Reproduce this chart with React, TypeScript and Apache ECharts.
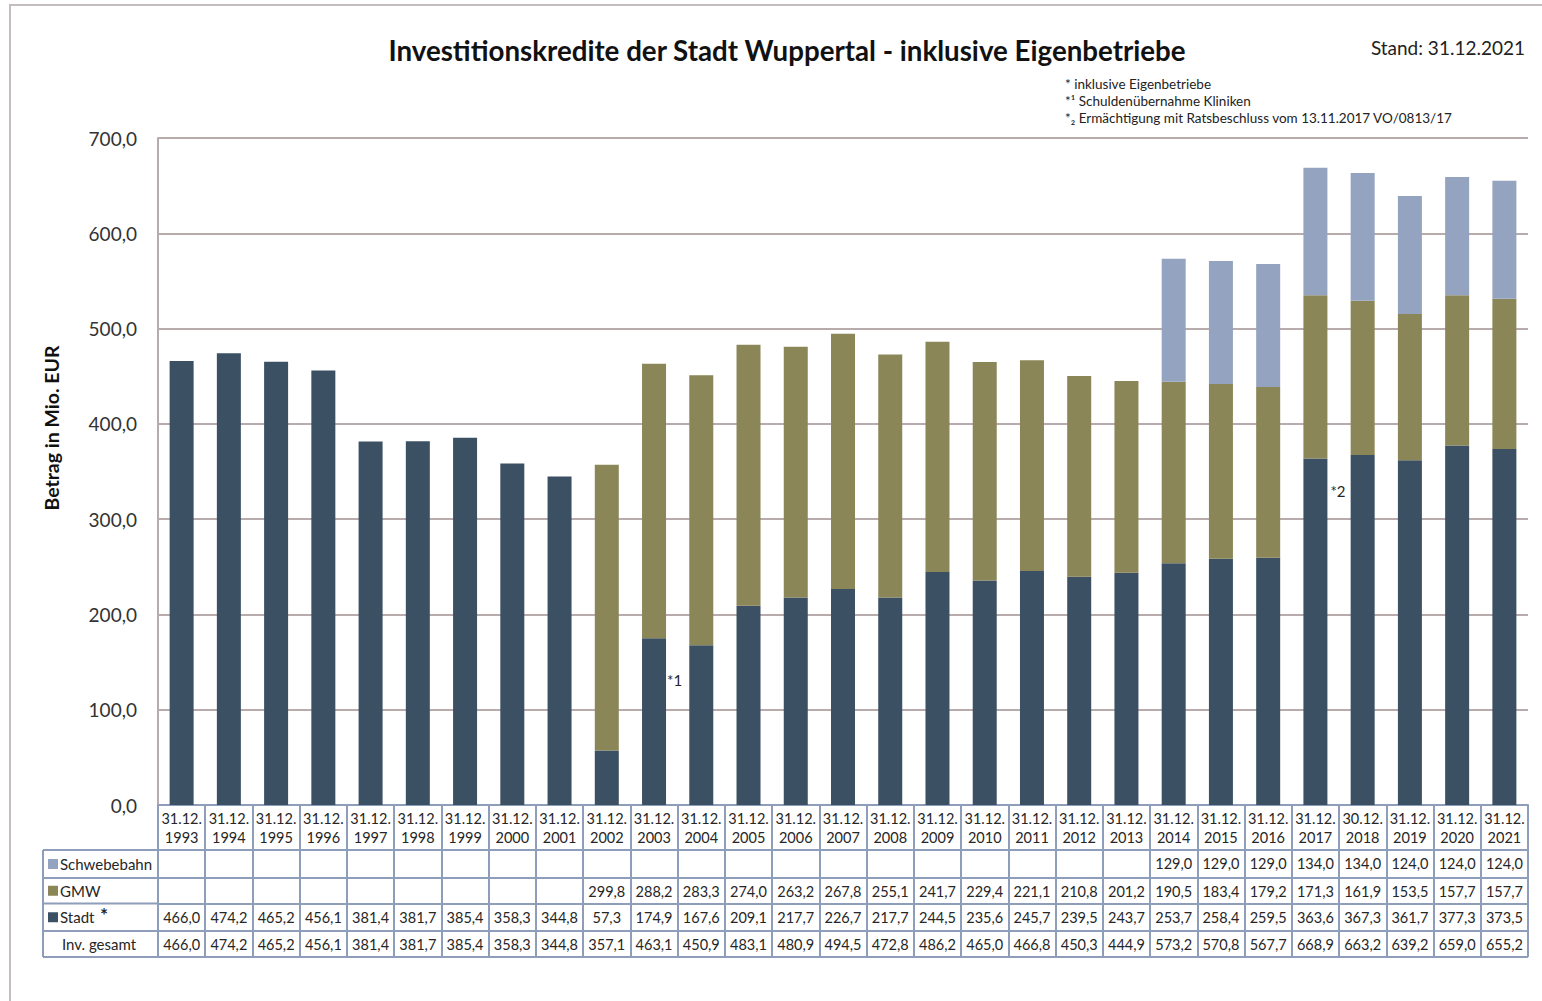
import React, { useEffect, useRef } from "react";
import * as echarts from "echarts";

const years = ["1993","1994","1995","1996","1997","1998","1999","2000","2001","2002","2003","2004","2005","2006","2007","2008","2009","2010","2011","2012","2013","2014","2015","2016","2017","2018","2019","2020","2021"];
const days = ["31.12.","31.12.","31.12.","31.12.","31.12.","31.12.","31.12.","31.12.","31.12.","31.12.","31.12.","31.12.","31.12.","31.12.","31.12.","31.12.","31.12.","31.12.","31.12.","31.12.","31.12.","31.12.","31.12.","31.12.","31.12.","30.12.","31.12.","31.12.","31.12."];
const stadt = [466.0,474.2,465.2,456.1,381.4,381.7,385.4,358.3,344.8,57.3,174.9,167.6,209.1,217.7,226.7,217.7,244.5,235.6,245.7,239.5,243.7,253.7,258.4,259.5,363.6,367.3,361.7,377.3,373.5];
const gmw = [null,null,null,null,null,null,null,null,null,299.8,288.2,283.3,274.0,263.2,267.8,255.1,241.7,229.4,221.1,210.8,201.2,190.5,183.4,179.2,171.3,161.9,153.5,157.7,157.7];
const schwebebahn = [null,null,null,null,null,null,null,null,null,null,null,null,null,null,null,null,null,null,null,null,null,129.0,129.0,129.0,134.0,134.0,124.0,124.0,124.0];
const gesamt = [466.0,474.2,465.2,456.1,381.4,381.7,385.4,358.3,344.8,357.1,463.1,450.9,483.1,480.9,494.5,472.8,486.2,465.0,466.8,450.3,444.9,573.2,570.8,567.7,668.9,663.2,639.2,659.0,655.2];
const annotations = [{ year: "2003", text: "*1" }, { year: "2017", text: "*2" }];
const footnotes = ["* inklusive Eigenbetriebe", "*\u00b9 Schuldenübernahme Kliniken", "*\u2082 Ermächtigung mit Ratsbeschluss vom 13.11.2017 VO/0813/17"];

const C_STADT = "#3c5063";
const C_GMW = "#8a8658";
const C_SCHWEBE = "#94a3bf";
const TABLE = "#8e9dba";
const GRIDC = "#b8abab";
const TXT = "#262626";
const FONT = "Lato, 'Open Sans', sans-serif";

const fmt = (v: number | null | undefined) => (v == null ? "" : v.toFixed(1).replace(".", ","));

function txt(x: number, y: number, text: string, size: number, opts: any = {}) {
  return {
    type: "text",
    x,
    y,
    rotation: opts.rotation || 0,
    silent: true,
    style: {
      text,
      fontSize: size,
      fontFamily: FONT,
      fontWeight: opts.bold ? "bold" : "normal",
      fill: opts.color || TXT,
      align: opts.align || "left",
      textAlign: opts.align || "left",
      verticalAlign: "middle",
      textVerticalAlign: "middle",
    },
  };
}
function hline(x1: number, x2: number, y: number) {
  return { type: "line", silent: true, shape: { x1, y1: y, x2, y2: y }, style: { stroke: TABLE, lineWidth: 2 } };
}

export default function App() {
  const ref = useRef<HTMLDivElement>(null);
  useEffect(() => {
    const chart = echarts.init(ref.current!, undefined, { renderer: "svg" });

    const tableAxis = (vals: (number | null)[], offset: number, tickLen: number, margin: number) => ({
      type: "category",
      gridIndex: 0,
      position: "bottom",
      offset,
      data: years,
      axisLine: { show: true, lineStyle: { color: TABLE, width: 2 } },
      axisTick: { show: true, interval: 0, length: tickLen, alignWithLabel: false, lineStyle: { color: TABLE, width: 2 } },
      axisLabel: {
        interval: 0,
        margin,
        fontSize: 14.5,
        color: TXT,
        fontFamily: FONT,
        formatter: (v: string) => fmt(vals[years.indexOf(v)]),
      },
      splitLine: { show: false },
    });

    const stadtData = stadt.map((v, i) => {
      const a = annotations.find((an) => an.year === years[i]);
      if (!a) return v;
      return {
        value: v,
        label: {
          show: true,
          formatter: a.text,
          position: a.text === "*1" ? [25, 42] : [27, 32],
          align: "left",
          verticalAlign: "middle",
          fontSize: 15,
          color: TXT,
          fontFamily: FONT,
        },
      };
    });

    const rowLabelY = [864, 890.75, 917.25, 944];

    chart.setOption({
      animation: false,
      backgroundColor: "#ffffff",
      grid: { left: 158, right: 14, top: 138, bottom: 196 },
      xAxis: [
        {
          type: "category",
          gridIndex: 0,
          position: "bottom",
          offset: 0,
          data: years,
          axisLine: { show: true, lineStyle: { color: TABLE, width: 2 } },
          axisTick: { show: true, interval: 0, length: 45, alignWithLabel: false, lineStyle: { color: TABLE, width: 2 } },
          axisLabel: {
            interval: 0,
            margin: 4,
            fontSize: 14.5,
            lineHeight: 19,
            color: TXT,
            fontFamily: FONT,
            formatter: (v: string) => days[years.indexOf(v)] + "\n" + v,
          },
          splitLine: { show: false },
        },
        tableAxis(schwebebahn, 45, 28, 6),
        tableAxis(gmw, 73, 25.5, 6),
        tableAxis(stadt, 98.5, 27.5, 6),
        tableAxis(gesamt, 126, 26, 6),
      ],
      yAxis: {
        type: "value",
        min: 0,
        max: 700,
        interval: 100,
        axisLabel: { formatter: (v: number) => fmt(v), fontSize: 19, color: "#333", margin: 21, fontFamily: FONT },
        axisLine: { show: true, lineStyle: { color: GRIDC, width: 2 } },
        axisTick: { show: false },
        splitLine: { lineStyle: { color: GRIDC, width: 2 } },
      },
      series: [
        { name: "Stadt", type: "bar", stack: "total", xAxisIndex: 0, barWidth: 24, data: stadtData, itemStyle: { color: C_STADT } },
        { name: "GMW", type: "bar", stack: "total", xAxisIndex: 0, barWidth: 24, data: gmw, itemStyle: { color: C_GMW } },
        { name: "Schwebebahn", type: "bar", stack: "total", xAxisIndex: 0, barWidth: 24, data: schwebebahn, itemStyle: { color: C_SCHWEBE } },
      ],
      graphic: [
        { type: "rect", silent: true, shape: { x: 10, y: 5, width: 1600, height: 1100 }, style: { fill: "none", stroke: "#c4bdbd", lineWidth: 2 } },
        txt(787, 50, "Investitionskredite der Stadt Wuppertal - inklusive Eigenbetriebe", 27.7, { bold: true, align: "center", color: "#111" }),
        txt(1525, 47, "Stand: 31.12.2021", 19, { align: "right", color: "#222" }),
        ...footnotes.map((f, i) => txt(1065, 84 + i * 17, f, 13.5, { color: "#222" })),
        txt(51, 428, "Betrag in Mio. EUR", 19.5, { bold: true, align: "center", color: "#111", rotation: Math.PI / 2 }),
        // row label column
        hline(43, 158, 850),
        hline(43, 158, 878),
        hline(43, 158, 903.5),
        hline(43, 158, 931),
        hline(43, 1528, 957),
        { type: "line", silent: true, shape: { x1: 43, y1: 850, x2: 43, y2: 957 }, style: { stroke: TABLE, lineWidth: 2 } },
        { type: "rect", silent: true, shape: { x: 48, y: rowLabelY[0] - 5, width: 10, height: 10 }, style: { fill: C_SCHWEBE } },
        txt(60, rowLabelY[0], "Schwebebahn", 15),
        { type: "rect", silent: true, shape: { x: 48, y: rowLabelY[1] - 5, width: 10, height: 10 }, style: { fill: C_GMW } },
        txt(60, rowLabelY[1], "GMW", 15),
        { type: "rect", silent: true, shape: { x: 48, y: rowLabelY[2] - 5, width: 10, height: 10 }, style: { fill: C_STADT } },
        txt(60, rowLabelY[2], "Stadt", 15),
        txt(100, rowLabelY[2] - 3, "*", 19, { bold: true }),
        txt(62, rowLabelY[3], "Inv. gesamt", 15),
      ],
    });
    return () => chart.dispose();
  }, []);
  return <div ref={ref} style={{ position: "fixed", left: 0, top: 0, width: 1542, height: 1001, background: "#fff" }} />;
}
